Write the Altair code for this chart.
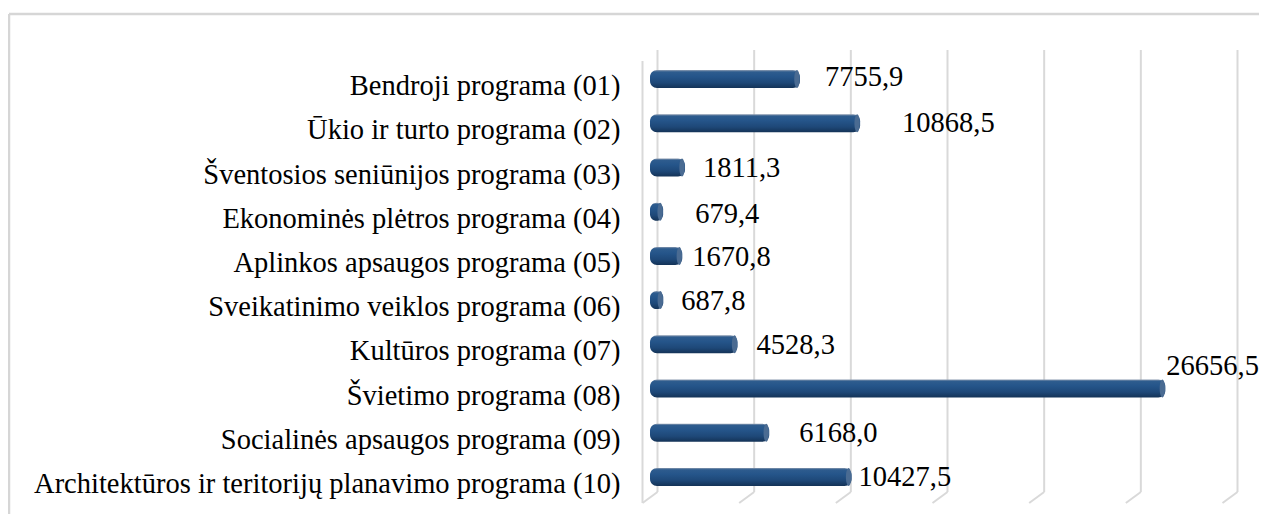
import altair as alt
import pandas as pd

# ---- data ----
categories = [
    "Bendroji programa (01)",
    "Ūkio ir turto programa (02)",
    "Šventosios seniūnijos programa (03)",
    "Ekonominės plėtros programa (04)",
    "Aplinkos apsaugos programa (05)",
    "Sveikatinimo veiklos programa (06)",
    "Kultūros programa (07)",
    "Švietimo programa (08)",
    "Socialinės apsaugos programa (09)",
    "Architektūros ir teritorijų planavimo programa (10)",
]
values = [7755.9, 10868.5, 1811.3, 679.4, 1670.8, 687.8, 4528.3, 26656.5, 6168.0, 10427.5]
x_ticks = [0, 5000, 10000, 15000, 20000, 25000, 30000]

# ---- label nudges (pixels, styling only) ----
label_dx = [25, 42, 18, 32, 10, 18, 19, 1, 30, 7]
label_dy = [-2, 0, 0, 2, 1, 1, 1, -23, 0, 0]

FONT = "Liberation Serif"
W, H = 1250, 500
GRID = "#d9d9d9"
X0, X1 = 641, 1221           # pixel range of the value axis (view coords)
PX_PER_UNIT = (X1 - X0) / 30000.0
BAND = 18                    # bar thickness in px

df = pd.DataFrame({"cat": categories, "val": values, "ldx": label_dx, "ldy": label_dy})
ticks_df = pd.DataFrame({"t": x_ticks})
zero_df = pd.DataFrame({"t": [0]})

xscale = alt.Scale(domain=[0, 30000], range=[X0, X1], nice=False, zero=True)
p_in = 1 - BAND / 44.2
yscale = alt.Scale(domain=categories, range=[43, 485], paddingInner=p_in, paddingOuter=p_in / 2)

Y = alt.Y(
    "cat:N",
    sort=categories,
    scale=yscale,
    axis=alt.Axis(
        title=None, orient="left", offset=-611, domain=False, ticks=False,
        labelPadding=0, labelFont=FONT, labelFontSize=28.5, labelColor="#000000",
        labelOffset=7, labelLimit=0, grid=False,
    ),
)

border_top = alt.Chart(zero_df).mark_rule(color="#d6d6d6", strokeWidth=2.5).encode(
    x=alt.value(0), x2=alt.value(W + 20), y=alt.value(0)
)
border_left = alt.Chart(zero_df).mark_rule(color="#d6d6d6", strokeWidth=2.5).encode(
    x=alt.value(0), y=alt.value(0), y2=alt.value(H + 20)
)

grid_back = alt.Chart(ticks_df).mark_rule(color=GRID, strokeWidth=2, xOffset=7.5).encode(
    x=alt.X("t:Q", scale=xscale, axis=None), y=alt.value(36), y2=alt.value(478)
)
grid_floor = alt.Chart(ticks_df).mark_rule(
    color=GRID, strokeWidth=2, xOffset=7.5, x2Offset=-7.5
).encode(
    x=alt.X("t:Q", scale=xscale, axis=None), x2="t:Q", y=alt.value(478), y2=alt.value(489)
)
wall_front = alt.Chart(zero_df).mark_rule(color=GRID, strokeWidth=2, xOffset=-7.5).encode(
    x=alt.X("t:Q", scale=xscale, axis=None), y=alt.value(47), y2=alt.value(489)
)

grad = alt.Gradient(
    gradient="linear", x1=0, x2=0, y1=0, y2=1,
    stops=[
        alt.GradientStop(color="#8a9ab0", offset=0),
        alt.GradientStop(color="#2e5c8e", offset=0.1),
        alt.GradientStop(color="#25558a", offset=0.35),
        alt.GradientStop(color="#1e4878", offset=0.7),
        alt.GradientStop(color="#143357", offset=1),
    ],
)

bars = alt.Chart(df).mark_bar(cornerRadius=7, color=grad).encode(
    x=alt.X("val:Q", scale=xscale, axis=None), x2=alt.datum(0), y=Y
)

ellipse = "M0,-1 A0.3,1 0 1,1 0,1 A0.3,1 0 1,1 0,-1 Z"
caps = alt.Chart(df).mark_point(
    shape=ellipse, filled=True, size=BAND * BAND, color="#4a6b92", opacity=1, xOffset=-3
).encode(x=alt.X("val:Q", scale=xscale, axis=None), y=Y)

labels = alt.Chart(df).transform_calculate(
    lab="replace(format(datum.val, '.1f'), '.', ',')",
    lx=f"datum.val + datum.ldx / {PX_PER_UNIT}",
    ly=f"datum.ldy + {BAND / 2}",
).mark_text(align="left", baseline="middle", font=FONT, fontSize=28.5, color="#000000").encode(
    x=alt.X("lx:Q", scale=xscale, axis=None),
    y=Y,
    yOffset=alt.YOffset("ly:Q", scale=None),
    text="lab:N",
)

chart = alt.layer(
    border_top, border_left, grid_back, grid_floor, wall_front, bars, caps, labels
).properties(
    width=W, height=H,
    autosize=alt.AutoSizeParams(type="none"),
    padding={"left": 1, "top": 6, "right": 0, "bottom": 0},
).configure_view(stroke=None).configure(background="white")

chart.save("out.html", embed_options={"renderer": "svg", "actions": False})
